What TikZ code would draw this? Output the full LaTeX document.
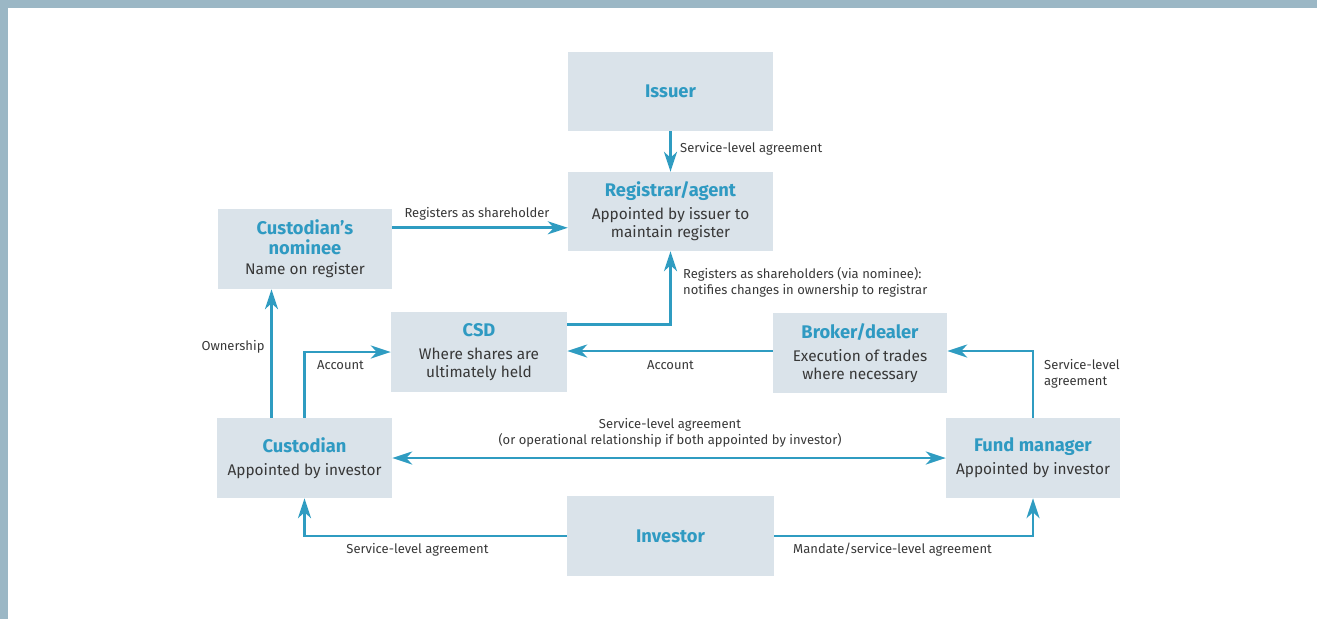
\documentclass[tikz,border=0pt]{standalone}
\usepackage{fontspec}
\setmainfont{Fira Sans}
\usetikzlibrary{arrows.meta,calc}
\definecolor{boxfill}{HTML}{DAE3EA}
\definecolor{teal}{HTML}{2F9AC2}
\definecolor{arrowc}{HTML}{2F9CC1}
\definecolor{txt}{HTML}{383838}
\definecolor{frame}{HTML}{9BB7C5}
\newcommand{\ttl}[1]{{\fontsize{18.3}{21}\selectfont\bfseries\color{teal}#1}}
\begin{document}
\begin{tikzpicture}[x=1pt,y=-1pt,
  box/.style={fill=boxfill, inner sep=0pt, align=center, text=txt,
     font=\fontsize{15.4}{18}\selectfont},
  lbl/.style={inner sep=0pt, text=txt, font=\fontsize{13}{16}\selectfont},
  arr/.style={draw=arrowc, line width=2.8pt, -{Stealth[length=20pt,width=13pt,inset=6pt]}},
  arr2/.style={draw=arrowc, line width=2.8pt, {Stealth[length=20pt,width=13pt,inset=6pt]}-{Stealth[length=20pt,width=13pt,inset=6pt]}}
]
\useasboundingbox (0,0) rectangle (1317,619);
\fill[frame] (0,0) rectangle (1317,7.5);
\fill[frame] (0,0) rectangle (7.5,619);

\node[box, minimum width=205pt, minimum height=79pt] (iss) at (670.5,91.5) {\ttl{Issuer}};
\node[box, minimum width=205pt, minimum height=79pt] (reg) at (670.5,211.5) {\ttl{Registrar/agent}\\[5pt]Appointed by issuer to\\maintain register};
\node[box, minimum width=174pt, minimum height=80pt] (nom) at (305,249) {\ttl{Custodian’s}\\[2pt]\ttl{nominee}\\[2pt]Name on register};
\node[box, minimum width=176pt, minimum height=80pt] (csd) at (479,352) {\ttl{CSD}\\[5pt]Where shares are\\ultimately held};
\node[box, minimum width=174pt, minimum height=80pt] (brk) at (860,353) {\ttl{Broker/dealer}\\[5pt]Execution of trades\\where necessary};
\node[box, minimum width=175pt, minimum height=80pt] (cus) at (304.5,458) {\ttl{Custodian}\\[5pt]Appointed by investor};
\node[box, minimum width=174pt, minimum height=80pt] (fmg) at (1033,458) {\ttl{Fund manager}\\[5pt]Appointed by investor};
\node[box, minimum width=207pt, minimum height=80pt] (inv) at (670.5,536) {\ttl{Investor}};

% connectors
\draw[arr] (iss.south) -- (reg.north);
\coordinate (regin) at ([yshift=-56pt]reg.north west);
\draw[arr] (nom.east |- regin) -- (regin);
\draw[arr] ([yshift=-13pt]csd.north east) -| (reg.south);
\coordinate (own) at ([xshift=-33pt]cus.north);
\draw[arr] (own) -- (own |- nom.south);
\draw[arr] (cus.north) |- (csd.west);
\draw[arr] ([yshift=2pt]brk.west) -- ([yshift=2pt]brk.west -| csd.east);
\draw[arr] (fmg.north) |- ([yshift=2pt]brk.east);
\draw[arr2] (cus.east) -- (fmg.west);
\draw[arr] (inv.west) -| (cus.south);
\draw[arr] (inv.east) -| (fmg.south);

% labels
\node[lbl, anchor=west] (l1) at (680,149) {Service-level agreement};
\node[lbl] (l2) at (477,214) {Registers as shareholder};
\node[lbl, anchor=west, align=left] (l3) at (683,282.5) {Registers as shareholders (via nominee):\\notifies changes in ownership to registrar};
\node[lbl] (l4) at (233,347) {Ownership};
\node[lbl] (l5) at (340.5,365) {Account};
\node[lbl] (l6) at (670.5,365) {Account};
\node[lbl, anchor=west, align=left] (l7) at (1044,373.5) {Service-level\\agreement};
\node[lbl, align=center] (l8) at (670,433) {Service-level agreement\\(or operational relationship if both appointed by investor)};
\node[lbl] (l9) at (417.5,550) {Service-level agreement};
\node[lbl] (l10) at (892.5,550) {Mandate/service-level agreement};
\end{tikzpicture}
\end{document}
